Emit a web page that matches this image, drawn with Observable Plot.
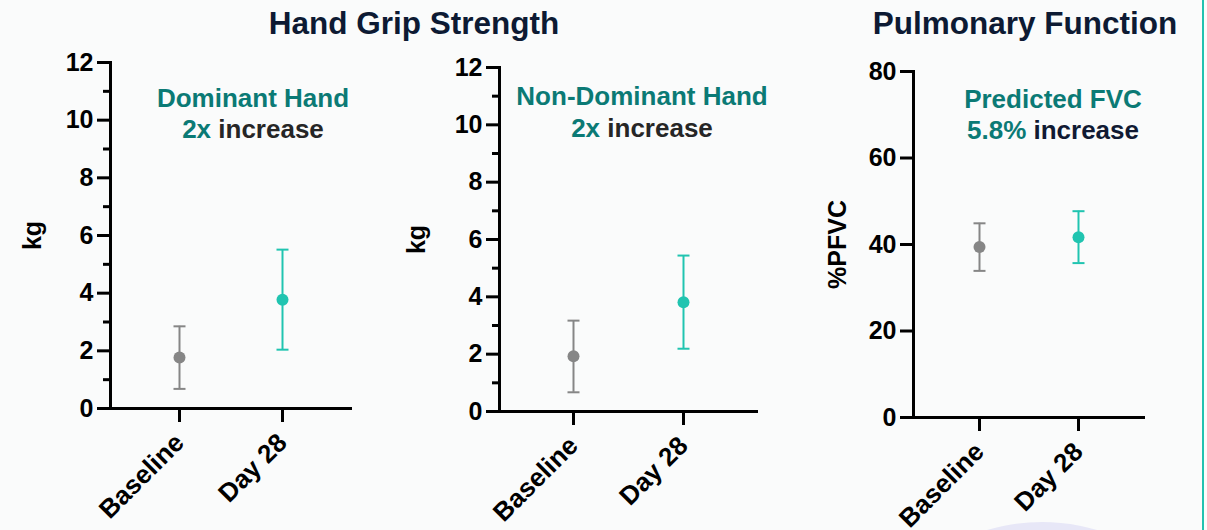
<!DOCTYPE html>
<html><head><meta charset="utf-8">
<script src="https://cdn.jsdelivr.net/npm/d3@7"></script>
<script src="https://cdn.jsdelivr.net/npm/@observablehq/plot@0.6"></script>
<style>
body{margin:0;background:#fafbfb;}
#root{position:relative;width:1207px;height:530px;overflow:hidden;background:#fafbfb;font-family:"Liberation Sans",Arial,Helvetica,sans-serif;}
.abs{position:absolute;white-space:nowrap;font-weight:bold;text-align:center;}
#root svg{position:absolute;top:0;}
</style></head><body><div id="root"></div><script>
// ---- data ----
const categories = ["Baseline", "Day 28"];
const pointColors = ["#868686", "#20c4b0"];
const dominantMean = [1.77, 3.77];
const dominantLow = [0.68, 2.04];
const dominantHigh = [2.85, 5.51];
const nonDominantMean = [1.93, 3.81];
const nonDominantLow = [0.67, 2.19];
const nonDominantHigh = [3.17, 5.44];
const fvcMean = [39.4, 41.7];
const fvcLow = [33.9, 35.7];
const fvcHigh = [44.9, 47.7];
const kgTicks = [0, 2, 4, 6, 8, 10, 12];
const kgMinorTicks = [1, 3, 5, 7, 9, 11];
const fvcTicks = [0, 20, 40, 60, 80];

const root = document.getElementById("root");
const FONT = '"Liberation Sans", Arial, Helvetica, sans-serif';

// horizontal cap symbol for error bars
const capSymbol = {
  draw(context, size) {
    const r = Math.sqrt(size / Math.PI);
    context.moveTo(-r, 0);
    context.lineTo(r, 0);
  }
};

// decorations (behind)
const circ = document.createElement("div");
circ.style.cssText = "position:absolute;left:849px;top:522px;width:386px;height:386px;border-radius:50%;background:#e7e7f7;";
root.appendChild(circ);
const vline = document.createElement("div");
vline.style.cssText = "position:absolute;left:1202px;top:0;width:2px;height:530px;background:#22c1b0;";
root.appendChild(vline);

function panel(o) {
  const rows = categories.map((c, i) => ({cat: c, mean: o.mean[i], low: o.low[i], high: o.high[i], color: pointColors[i]}));
  const marks = [
    Plot.ruleY([0], {stroke: "#000", strokeWidth: 3}),
    Plot.frame({anchor: "left", stroke: "#000", strokeWidth: 3}),
    Plot.axisY({ticks: o.yTicks, tickSize: 13, tickPadding: 4, stroke: "#000", strokeWidth: 3, fill: "#000",
      fontSize: 25, fontWeight: "bold", label: o.yLabel, labelAnchor: "center", labelOffset: o.labelOffset, labelArrow: false}),
    Plot.axisX({tickSize: 14, tickPadding: 16, tickRotate: -45, stroke: "#000", strokeWidth: 3, fill: "#000",
      fontSize: 26, fontWeight: "bold", label: null}),
    Plot.ruleX(rows, {x: "cat", y1: "low", y2: "high", stroke: "color", strokeWidth: 2}),
    Plot.dot(rows, {x: "cat", y: "high", stroke: "color", fill: "none", strokeWidth: 2, r: 6, symbol: capSymbol}),
    Plot.dot(rows, {x: "cat", y: "low", stroke: "color", fill: "none", strokeWidth: 2, r: 6, symbol: capSymbol}),
    Plot.dot(rows, {x: "cat", y: "mean", fill: "color", r: 6})
  ];
  if (o.yMinor) marks.splice(3, 0, Plot.axisY({ticks: o.yMinor, tickSize: 7, stroke: "#000", strokeWidth: 3, tickFormat: () => "", label: null}));
  const svg = Plot.plot({
    width: o.width, height: 530,
    marginLeft: o.marginLeft, marginRight: o.marginRight, marginTop: o.marginTop, marginBottom: o.marginBottom,
    style: {background: "transparent", overflow: "visible", fontFamily: FONT, color: "#000"},
    x: {type: "point", domain: categories, range: o.xRange, padding: 0},
    y: {domain: o.yDomain},
    color: {type: "identity"},
    marks
  });
  svg.style.left = o.left + "px";
  root.appendChild(svg);
}

panel({left: 0, width: 400, marginLeft: 110, marginRight: 48, marginTop: 62, marginBottom: 122,
  yDomain: [0, 12], yTicks: kgTicks, yMinor: kgMinorTicks, xRange: [179, 282],
  mean: dominantMean, low: dominantLow, high: dominantHigh, yLabel: "kg", labelOffset: 87});
panel({left: 390, width: 400, marginLeft: 109, marginRight: 32, marginTop: 67, marginBottom: 119,
  yDomain: [0, 12], yTicks: kgTicks, yMinor: kgMinorTicks, xRange: [183, 293],
  mean: nonDominantMean, low: nonDominantLow, high: nonDominantHigh, yLabel: "kg", labelOffset: 92});
panel({left: 800, width: 400, marginLeft: 113, marginRight: 55, marginTop: 71, marginBottom: 113,
  yDomain: [0, 80], yTicks: fvcTicks, yMinor: null, xRange: [179, 278],
  mean: fvcMean, low: fvcLow, high: fvcHigh, yLabel: "%PFVC", labelOffset: 85});

// text overlays (titles and annotations)
function label(html, cx, baseline, size, color) {
  const d = document.createElement("div");
  d.className = "abs";
  d.style.fontSize = size + "px";
  d.style.lineHeight = size + "px";
  d.style.color = color;
  d.style.width = "600px";
  d.style.left = (cx - 300) + "px";
  d.style.top = (baseline - size * 0.8465) + "px";
  d.innerHTML = html;
  root.appendChild(d);
}
const TEAL = "#0b7a75";
label("Hand Grip Strength", 414, 35, 31.5, "#0d1a33");
label("Pulmonary Function", 1025, 35, 31.5, "#0d1a33");
label("Dominant Hand", 253, 107, 26, TEAL);
label('<span style="color:' + TEAL + '">2x</span> increase', 253, 138, 26, "#262626");
label("Non-Dominant Hand", 642, 105, 26, TEAL);
label('<span style="color:' + TEAL + '">2x</span> increase', 642, 137, 26, "#262626");
label("Predicted FVC", 1053, 108, 26, TEAL);
label('<span style="color:' + TEAL + '">5.8%</span> increase', 1053, 139, 26, "#101a33");
</script></body></html>
